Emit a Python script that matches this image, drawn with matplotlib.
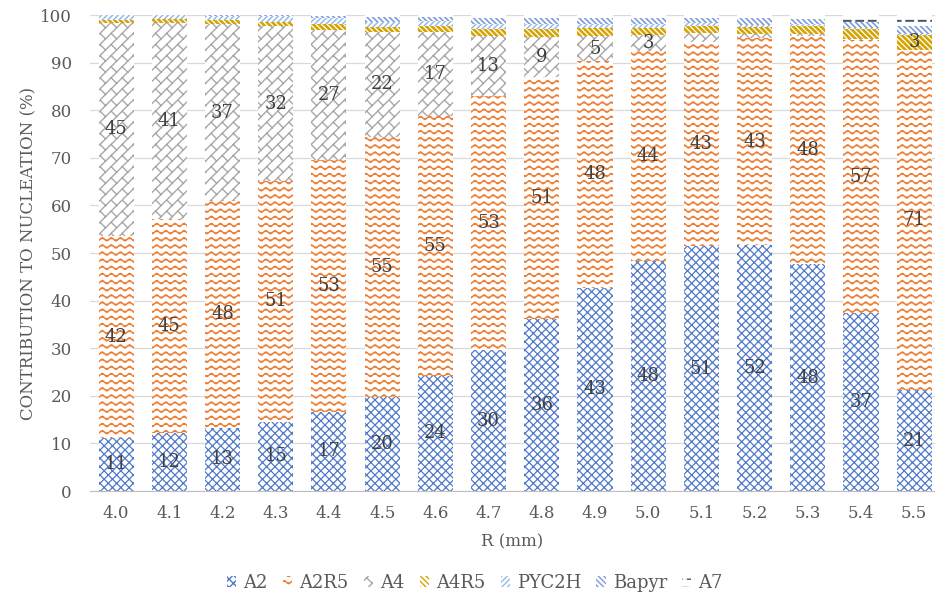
import warnings
import numpy as np
import matplotlib
matplotlib.use('Agg')
import matplotlib.pyplot as plt
import matplotlib.hatch as mhatch
from matplotlib.patches import Patch
from matplotlib.path import Path

warnings.filterwarnings('ignore')

# data (percent of nucleation)
radius = ['4.0', '4.1', '4.2', '4.3', '4.4', '4.5', '4.6', '4.7',
          '4.8', '4.9', '5.0', '5.1', '5.2', '5.3', '5.4', '5.5']
a2 = [11.2, 12.1, 13.3, 14.6, 16.6, 19.8, 24.2, 29.6, 36.2, 42.7, 48.3, 51.4, 51.7, 47.6, 37.3, 21.2]
a2r5 = [42.4, 45.0, 47.6, 50.5, 52.9, 54.6, 54.6, 53.4, 50.8, 47.6, 44.2, 42.9, 43.4, 48.0, 57.4, 71.4]
a4 = [44.7, 41.2, 37.2, 32.5, 27.3, 22.0, 17.6, 12.6, 8.4, 5.3, 3.2, 2.0, 1.0, 0.4, 0.2, 0.1]
a4r5 = [0.7, 0.8, 0.9, 1.0, 1.4, 1.1, 1.3, 1.4, 1.6, 1.6, 1.5, 1.3, 1.3, 1.7, 2.1, 3.1]
pyc2h = [0.9, 0.8, 0.85, 1.2, 1.2, 1.1, 1.1, 1.2, 1.1, 1.0, 0.9, 0.7, 0.6, 0.5, 0.3, 0.3]
bapyr = [0.1, 0.1, 0.15, 0.2, 0.4, 0.9, 0.8, 1.2, 1.3, 1.2, 1.3, 1.1, 1.3, 1.0, 1.2, 1.5]
a7 = [0.0, 0.0, 0.0, 0.0, 0.2, 0.5, 0.4, 0.6, 0.6, 0.6, 0.6, 0.6, 0.7, 0.8, 1.7, 2.4]

# labels shown in the chart (blank = not shown)
a2_labels = ['11', '12', '13', '15', '17', '20', '24', '30', '36', '43', '48', '51', '52', '48', '37', '21']
a2r5_labels = ['42', '45', '48', '51', '53', '55', '55', '53', '51', '48', '44', '43', '43', '48', '57', '71']
a4_labels = ['45', '41', '37', '32', '27', '22', '17', '13', '9', '5', '3', '', '', '', '', '']
a4r5_labels = [''] * 15 + ['3']


# ---- custom hatch patterns (wave, diagonal brick, dashed horizontal) ----
def clip_unit(p0, p1):
    x0, y0 = p0
    dx, dy = p1[0] - x0, p1[1] - y0
    t0, t1 = 0.0, 1.0
    for p, q in ((-dx, x0), (dx, 1 - x0), (-dy, y0), (dy, 1 - y0)):
        if p == 0:
            if q < 0:
                return None
            continue
        r = q / p
        if p < 0:
            if r > t1:
                return None
            t0 = max(t0, r)
        else:
            if r < t0:
                return None
            t1 = min(t1, r)
    if t1 - t0 < 1e-9:
        return None
    return [(x0 + t0 * dx, y0 + t0 * dy), (x0 + t1 * dx, y0 + t1 * dy)]


class LineHatch(mhatch.HatchPatternBase):
    char = None

    def __init__(self, hatch, density):
        n = hatch.count(self.char)
        self.lines = self.make(n) if n else []
        self.num_vertices = sum(len(l) for l in self.lines)

    def set_vertices_and_codes(self, vertices, codes):
        i = 0
        for line in self.lines:
            k = len(line)
            vertices[i:i + k] = line
            codes[i] = Path.MOVETO
            codes[i + 1:i + k] = Path.LINETO
            i += k


class WaveHatch(LineHatch):
    char = '~'

    def make(self, n):
        rows = 7 * n
        xs = np.linspace(0, 1, 11 * 8 + 1)
        out = []
        for i in range(rows):
            y0 = (i + 0.5) / rows
            ys = y0 + 0.016 * np.sin(2 * np.pi * 11 * xs)
            out.append(np.column_stack([xs, ys]))
        return out


class BrickHatch(LineHatch):
    char = 'b'

    def make(self, n):
        m = 9 * n
        out = []
        for k in range(-m - 1, m + 2):
            seg = clip_unit((k / m, 0.0), (1 + k / m, 1.0))
            if seg:
                out.append(np.array(seg))
        for k in range(-m - 1, m + 1):
            u0, u1 = k / m, (k + 1) / m
            for j in range(-2, m + 3):
                v = (2 * j + (k % 2)) / m
                p0 = ((u0 + v) / 2, (v - u0) / 2)
                p1 = ((u1 + v) / 2, (v - u1) / 2)
                seg = clip_unit(p0, p1)
                if seg:
                    out.append(np.array(seg))
        return out


class DashHatch(LineHatch):
    char = '='

    def make(self, n):
        rows = 6 * n
        per = 8
        out = []
        for i in range(rows):
            y = (i + 0.5) / rows
            off = 0.5 / per if i % 2 else 0.0
            for j in range(-1, per + 1):
                x0 = j / per + off
                seg = clip_unit((x0, y), (x0 + 0.55 / per, y))
                if seg:
                    out.append(np.array(seg))
        return out


mhatch._hatch_types.extend([WaveHatch, BrickHatch, DashHatch])

series = [
    ('A2', a2, 'xxxx', '#5079C8', 0.9),
    ('A2R5', a2r5, '~~', '#ED7D31', 1.0),
    ('A4', a4, 'b', '#A8A8A8', 1.0),
    ('A4R5', a4r5, '\\' * 6, '#D6A300', 1.9),
    ('PYC2H', pyc2h, '//////', '#93BAEA', 1.1),
    ('Bapyr', bapyr, '\\' * 6, '#7E9BD6', 1.2),
    ('A7', a7, '==', '#44546A', 1.4),
]
label_sets = {'A2': a2_labels, 'A2R5': a2r5_labels, 'A4': a4_labels, 'A4R5': a4r5_labels}

plt.rcParams['font.family'] = ['DejaVu Serif']
text_color = '#595959'

fig = plt.figure(figsize=(9.35, 6.0), dpi=100)
ax = fig.add_axes([90 / 935, 1 - 491 / 600, 845 / 935, 476 / 600])

x = np.arange(len(radius))
bottom = np.zeros(len(radius))
handles = []
for name, vals, hatch, color, hlw in series:
    with plt.rc_context({'hatch.linewidth': hlw}):
        bars = ax.bar(x, vals, width=0.66, bottom=bottom, facecolor='white',
                      edgecolor=color, linewidth=0, hatch=hatch, zorder=2)
        for b in bars:
            if hasattr(b, 'set_hatch_linewidth'):
                b.set_hatch_linewidth(hlw)
        h = Patch(facecolor='white', edgecolor=color, linewidth=0, hatch=hatch, label=name)
        if hasattr(h, 'set_hatch_linewidth'):
            h.set_hatch_linewidth(hlw)
        handles.append(h)
    if name in label_sets:
        ax.bar_label(bars, labels=label_sets[name], label_type='center',
                     fontsize=13, color='#404040', zorder=3)
    bottom += np.array(vals)

# formatting
ax.set_xlim(-0.49, 15.39)
ax.set_ylim(0, 100)
ax.set_yticks(np.arange(0, 101, 10))
ax.set_xticks(x)
ax.set_xticklabels(radius)
ax.tick_params(axis='both', length=0, labelsize=12, colors=text_color)
ax.tick_params(axis='y', pad=13)
ax.tick_params(axis='x', pad=10)
ax.grid(axis='y', color='#D9D9D9', linewidth=0.9, zorder=0)
ax.set_axisbelow(True)
for side in ['top', 'right', 'left']:
    ax.spines[side].set_visible(False)
ax.spines['bottom'].set_color('#BFBFBF')
ax.set_xlabel('R (mm)', fontsize=12, color=text_color, labelpad=8)
ax.set_ylabel('CONTRIBUTION TO NUCLEATION (%)', fontsize=12, color=text_color, labelpad=2)

fig.legend(handles=handles, loc='center', bbox_to_anchor=(0.508, 1 - 583 / 600), ncol=7,
           frameon=False, fontsize=13, handlelength=0.5, handleheight=0.6,
           handletextpad=0.4, columnspacing=0.85, labelcolor=text_color)

fig.savefig('out.png', dpi=100)
